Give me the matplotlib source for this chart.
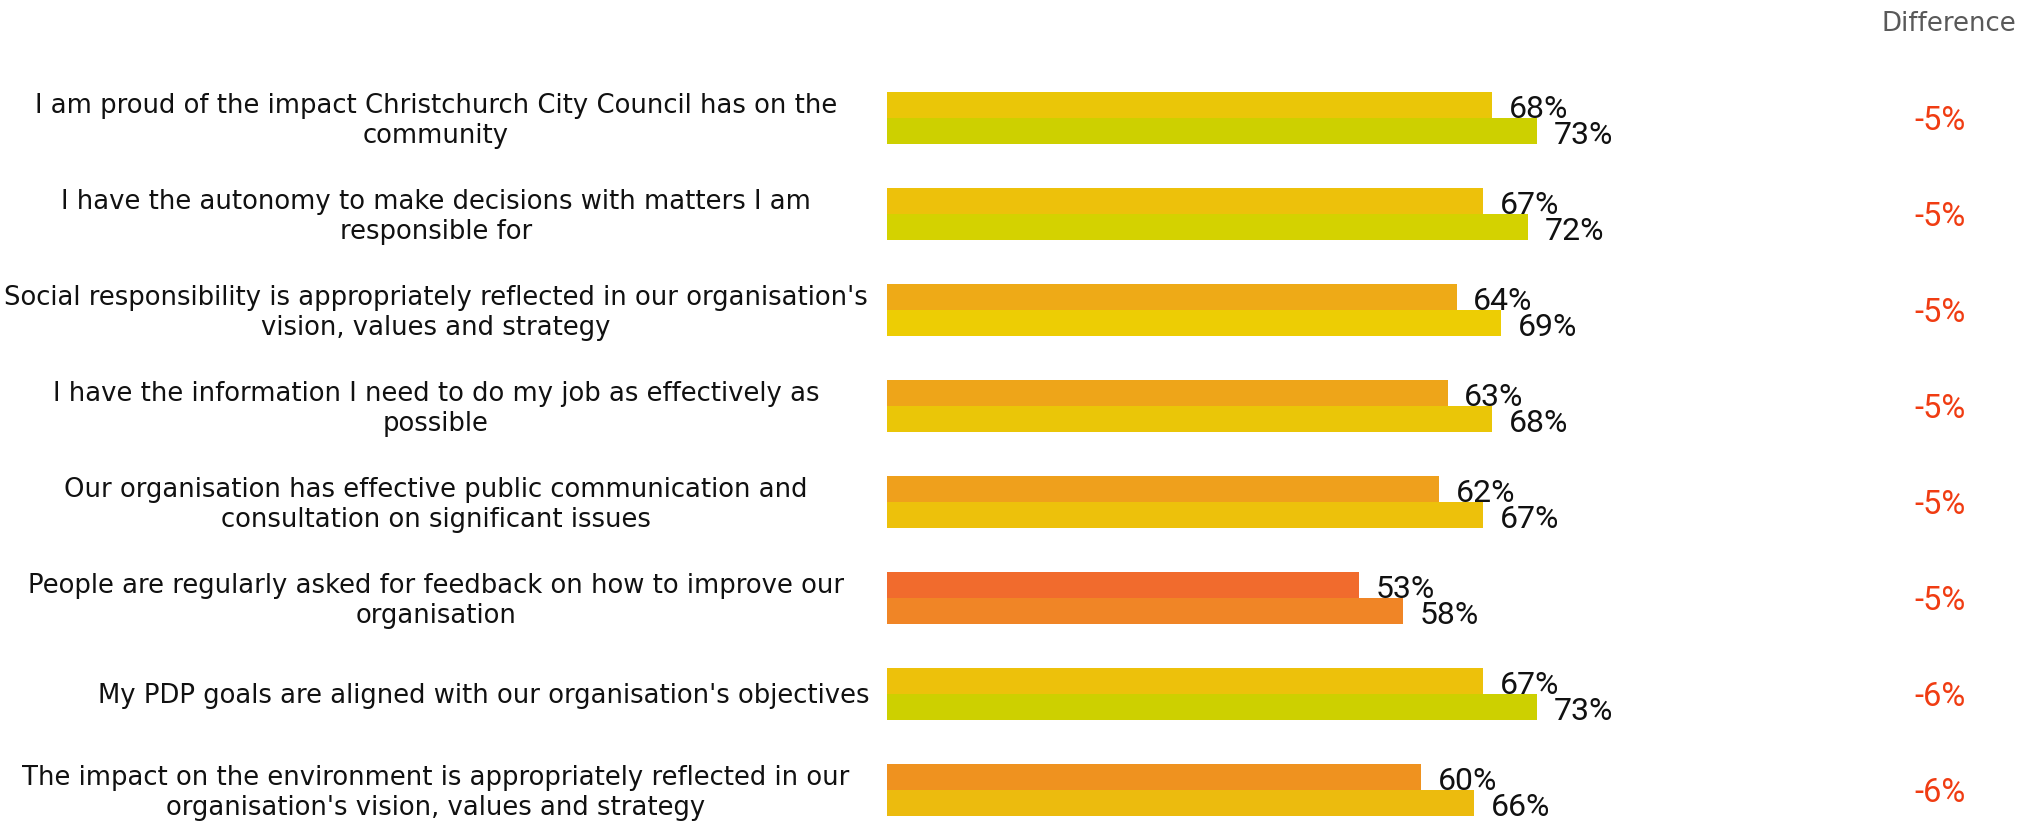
import matplotlib
matplotlib.use("Agg")
import matplotlib.pyplot as plt
import matplotlib.transforms as mtransforms
from matplotlib.colors import LinearSegmentedColormap

# ---- data -------------------------------------------------------------
categories = [
    "I am proud of the impact Christchurch City Council has on the\ncommunity",
    "I have the autonomy to make decisions with matters I am\nresponsible for",
    "Social responsibility is appropriately reflected in our organisation's\nvision, values and strategy",
    "I have the information I need to do my job as effectively as\npossible",
    "Our organisation has effective public communication and\nconsultation on significant issues",
    "People are regularly asked for feedback on how to improve our\norganisation",
    "My PDP goals are aligned with our organisation's objectives",
    "The impact on the environment is appropriately reflected in our\norganisation's vision, values and strategy",
]
current = [68, 67, 64, 63, 62, 53, 67, 60]
comparison = [73, 72, 69, 68, 67, 58, 73, 66]
diff_header = "Difference"

# ---- value-driven colour scale (low = red-orange, high = yellow-green) --
scale_points = [
    (53, "#F16B2D"), (58, "#F08526"), (60, "#EF921F"), (62, "#EFA01C"),
    (64, "#EEAA17"), (66, "#ECBB0E"), (67, "#EDC10B"), (68, "#EAC608"),
    (69, "#EDCD04"), (72, "#D4D200"), (73, "#CDD000"),
]
lo, hi = scale_points[0][0], scale_points[-1][0]
cmap = LinearSegmentedColormap.from_list(
    "score", [((v - lo) / (hi - lo), c) for v, c in scale_points])


def colour(v):
    return cmap((v - lo) / (hi - lo))


# ---- layout -----------------------------------------------------------
W, H, DPI = 2037, 822, 100
fig = plt.figure(figsize=(W / DPI, H / DPI), dpi=DPI)
fig.patch.set_facecolor("white")

zero_px, full_px = 887, 1777          # x pixel of 0% and 100%
first_row_px, row_px = 118, 96        # y pixel of first row centre, row pitch
ax = fig.add_axes([zero_px / W, 0, (full_px - zero_px) / W, 1])
ax.set_xlim(0, 100)
ax.set_ylim((H - first_row_px) / row_px, -first_row_px / row_px)
ax.axis("off")

bar_h = 0.27
label_font = ["DejaVu Sans"]
num_font = ["Roboto", "DejaVu Sans"]

for i, (cat, a, b) in enumerate(zip(categories, current, comparison)):
    ax.barh(i - bar_h / 2, a, height=bar_h, color=colour(a), linewidth=0)
    ax.barh(i + bar_h / 2, b, height=bar_h, color=colour(b), linewidth=0)

    ax.annotate(f"{a}%", xy=(a, i), xytext=(12, 0), textcoords="offset points",
                ha="left", va="baseline", fontsize=23, family=num_font,
                color="#111111")
    ax.annotate(f"{b}%", xy=(b, i + bar_h), xytext=(12, 0),
                textcoords="offset points", ha="left", va="baseline",
                fontsize=23, family=num_font, color="#111111")

# category labels: figure x, data y
lab_tr = mtransforms.blended_transform_factory(fig.transFigure, ax.transData)
for i, cat in enumerate(categories):
    if "\n" in cat:
        ax.text(436 / W, i + 0.035, cat, transform=lab_tr, ha="center",
                va="center", multialignment="center", fontsize=18.6,
                family=label_font, color="#111111", linespacing=1.2)
    else:
        ax.text(870 / W, i + 0.02, cat, transform=lab_tr, ha="right",
                va="center", fontsize=18.6, family=label_font,
                color="#111111")

# difference column
for i, (a, b) in enumerate(zip(current, comparison)):
    d = a - b
    ax.text(1940 / W, i + 0.13, f"{d}%", transform=lab_tr,
            ha="center", va="baseline", fontsize=23.5, family=num_font,
            color="#F03C12")

fig.text(1949 / W, 1 - 31 / H, diff_header, ha="center", va="baseline",
         fontsize=18.7, family=label_font, color="#595959")

fig.savefig("out.png", dpi=DPI, facecolor="white")
